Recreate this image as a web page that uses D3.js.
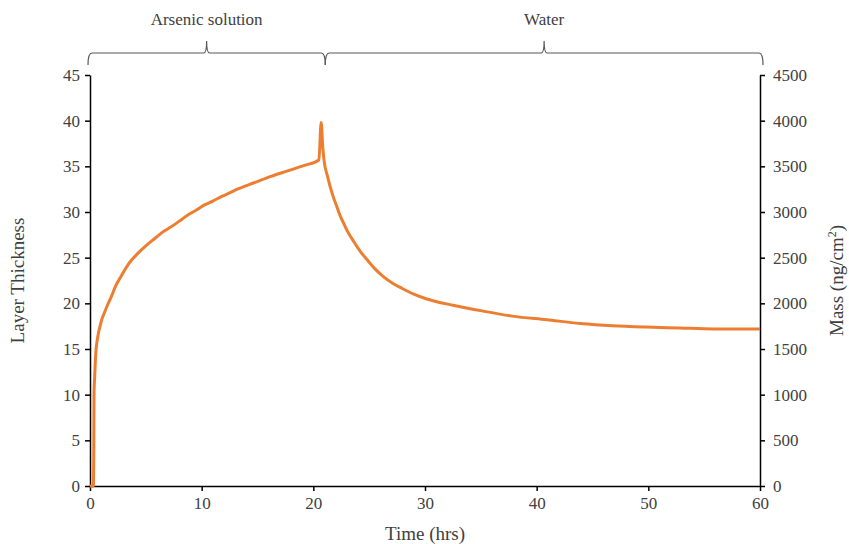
<!DOCTYPE html>
<html>
<head>
<meta charset="utf-8">
<script src="https://cdn.jsdelivr.net/npm/d3@7"></script>
<style>
  body { margin: 0; background: #fff; }
  text { font-family: "Liberation Serif", "Times New Roman", serif; fill: #404040; }
  .axis path, .axis line { stroke: #000; stroke-width: 1.5; }
  .axis text { font-size: 17px; fill: #404040; font-family: "Liberation Serif", serif; }
</style>
</head>
<body>
<script>
//time (hrs) and layer thickness
var timeHrs = [0, 0.3, 0.34, 0.36, 0.42, 0.48, 0.54, 0.64, 0.75, 0.9, 1.05, 1.3, 1.6, 1.9, 2.3, 2.8, 3.5, 4.3, 5.0, 5.8, 6.5, 7.3, 8.0, 8.8, 9.5, 10.3, 11.0, 11.8, 12.5, 13.2, 14.7, 16.2, 17.7, 19.2, 20.5,
    20.7, 20.85, 21.0, 21.25, 21.5, 21.8, 22.1, 22.4, 22.7, 23.1, 23.6, 24.2, 24.8, 25.5, 26.3, 27.1, 28.0, 29.0, 30.1, 31.3, 32.5, 35.0, 37.8, 40.9, 43.9, 46.8, 49.8, 52.8, 55.8, 60];
var thickness = [0, 0, 4, 10.1, 12.0, 13.7, 14.9, 15.9, 16.7, 17.5, 18.2, 19.0, 19.9, 20.7, 21.9, 23.0, 24.4, 25.5, 26.3, 27.1, 27.8, 28.4, 29.0, 29.7, 30.2, 30.8, 31.2, 31.7, 32.1, 32.5, 33.2, 33.9, 34.5, 35.1, 35.7,
    39.8, 37.0, 35.3, 34.0, 32.8, 31.6, 30.6, 29.6, 28.8, 27.8, 26.8, 25.7, 24.8, 23.8, 22.9, 22.2, 21.6, 21.0, 20.5, 20.1, 19.8, 19.2, 18.6, 18.2, 17.8, 17.55, 17.4, 17.3, 17.2, 17.2];

var xTicks = [0, 10, 20, 30, 40, 50, 60];
var yTicks = [0, 5, 10, 15, 20, 25, 30, 35, 40, 45];
var massTicks = [0, 500, 1000, 1500, 2000, 2500, 3000, 3500, 4000, 4500];

//phases shown by the braces on top
var phaseNames = ["Arsenic solution", "Water"];
var phaseStart = [0, 20.8];
var phaseEnd = [20.8, 60];

window.onload = function(){
    var w = 849, h = 544;
    var left = 90, right = 760, top = 75, bottom = 486;

    var svg = d3.select("body")
        .append("svg")
        .attr("width", w)
        .attr("height", h);

    var x = d3.scaleLinear().domain([0, 60]).range([left, right]);
    var y = d3.scaleLinear().domain([0, 45]).range([bottom, top]);
    var yMass = d3.scaleLinear().domain([0, 4500]).range([bottom, top]);

    //axes
    svg.append("g")
        .attr("class", "axis")
        .attr("transform", "translate(0," + bottom + ")")
        .call(d3.axisBottom(x).tickValues(xTicks).tickSize(5).tickSizeOuter(0).tickPadding(6));
    svg.append("g")
        .attr("class", "axis")
        .attr("transform", "translate(" + left + ",0)")
        .call(d3.axisLeft(y).tickValues(yTicks).tickSize(5).tickSizeOuter(0).tickPadding(5));
    svg.append("g")
        .attr("class", "axis")
        .attr("transform", "translate(" + right + ",0)")
        .call(d3.axisRight(yMass).tickValues(massTicks).tickFormat(d3.format("d")).tickSize(5).tickSizeOuter(0).tickPadding(8));

    //the curve
    var pts = timeHrs.map(function(t, i){ return [t, thickness[i]]; });
    var line = d3.line()
        .x(function(d){ return x(d[0]); })
        .y(function(d){ return y(d[1]); })
        .curve(d3.curveMonotoneX);
    svg.append("path")
        .datum(pts)
        .attr("d", line)
        .style("fill", "none")
        .style("stroke", "#ED7D31")
        .style("stroke-width", 3)
        .style("stroke-linejoin", "round");

    //braces
    var by = 53;
    phaseNames.forEach(function(name, i){
        var x1 = x(phaseStart[i]) - (i == 0 ? 2 : -3);
        var x2 = x(phaseEnd[i]) + 3;
        var xm = (x1 + x2) / 2;
        var p = "M" + x1 + "," + (by + 12) +
            " Q" + x1 + "," + by + " " + (x1 + 4) + "," + by +
            " L" + (xm - 3) + "," + by +
            " Q" + xm + "," + by + " " + xm + "," + (by - 12) +
            " Q" + xm + "," + by + " " + (xm + 3) + "," + by +
            " L" + (x2 - 4) + "," + by +
            " Q" + x2 + "," + by + " " + x2 + "," + (by + 12);
        svg.append("path")
            .attr("d", p)
            .style("fill", "none")
            .style("stroke", "#595959")
            .style("stroke-width", 1.2);
        svg.append("text")
            .attr("x", xm)
            .attr("y", 25)
            .attr("text-anchor", "middle")
            .style("font-size", "17px")
            .text(name);
    });

    //axis titles
    svg.append("text")
        .attr("x", (left + right) / 2)
        .attr("y", 540)
        .attr("text-anchor", "middle")
        .style("font-size", "19px")
        .text("Time (hrs)");
    svg.append("text")
        .attr("transform", "translate(24," + (top + bottom) / 2 + ") rotate(-90)")
        .attr("text-anchor", "middle")
        .style("font-size", "19px")
        .text("Layer Thickness");
    var massLabel = svg.append("text")
        .attr("transform", "translate(849," + (top + bottom) / 2 + ") rotate(-90)")
        .attr("text-anchor", "middle")
        .style("font-size", "19px");
    massLabel.append("tspan").attr("dy", "-6").text("Mass (ng/cm");
    massLabel.append("tspan").attr("dy", "-7").style("font-size", "12px").text("2");
    massLabel.append("tspan").attr("dy", "7").text(")");
};
</script>
</body>
</html>
